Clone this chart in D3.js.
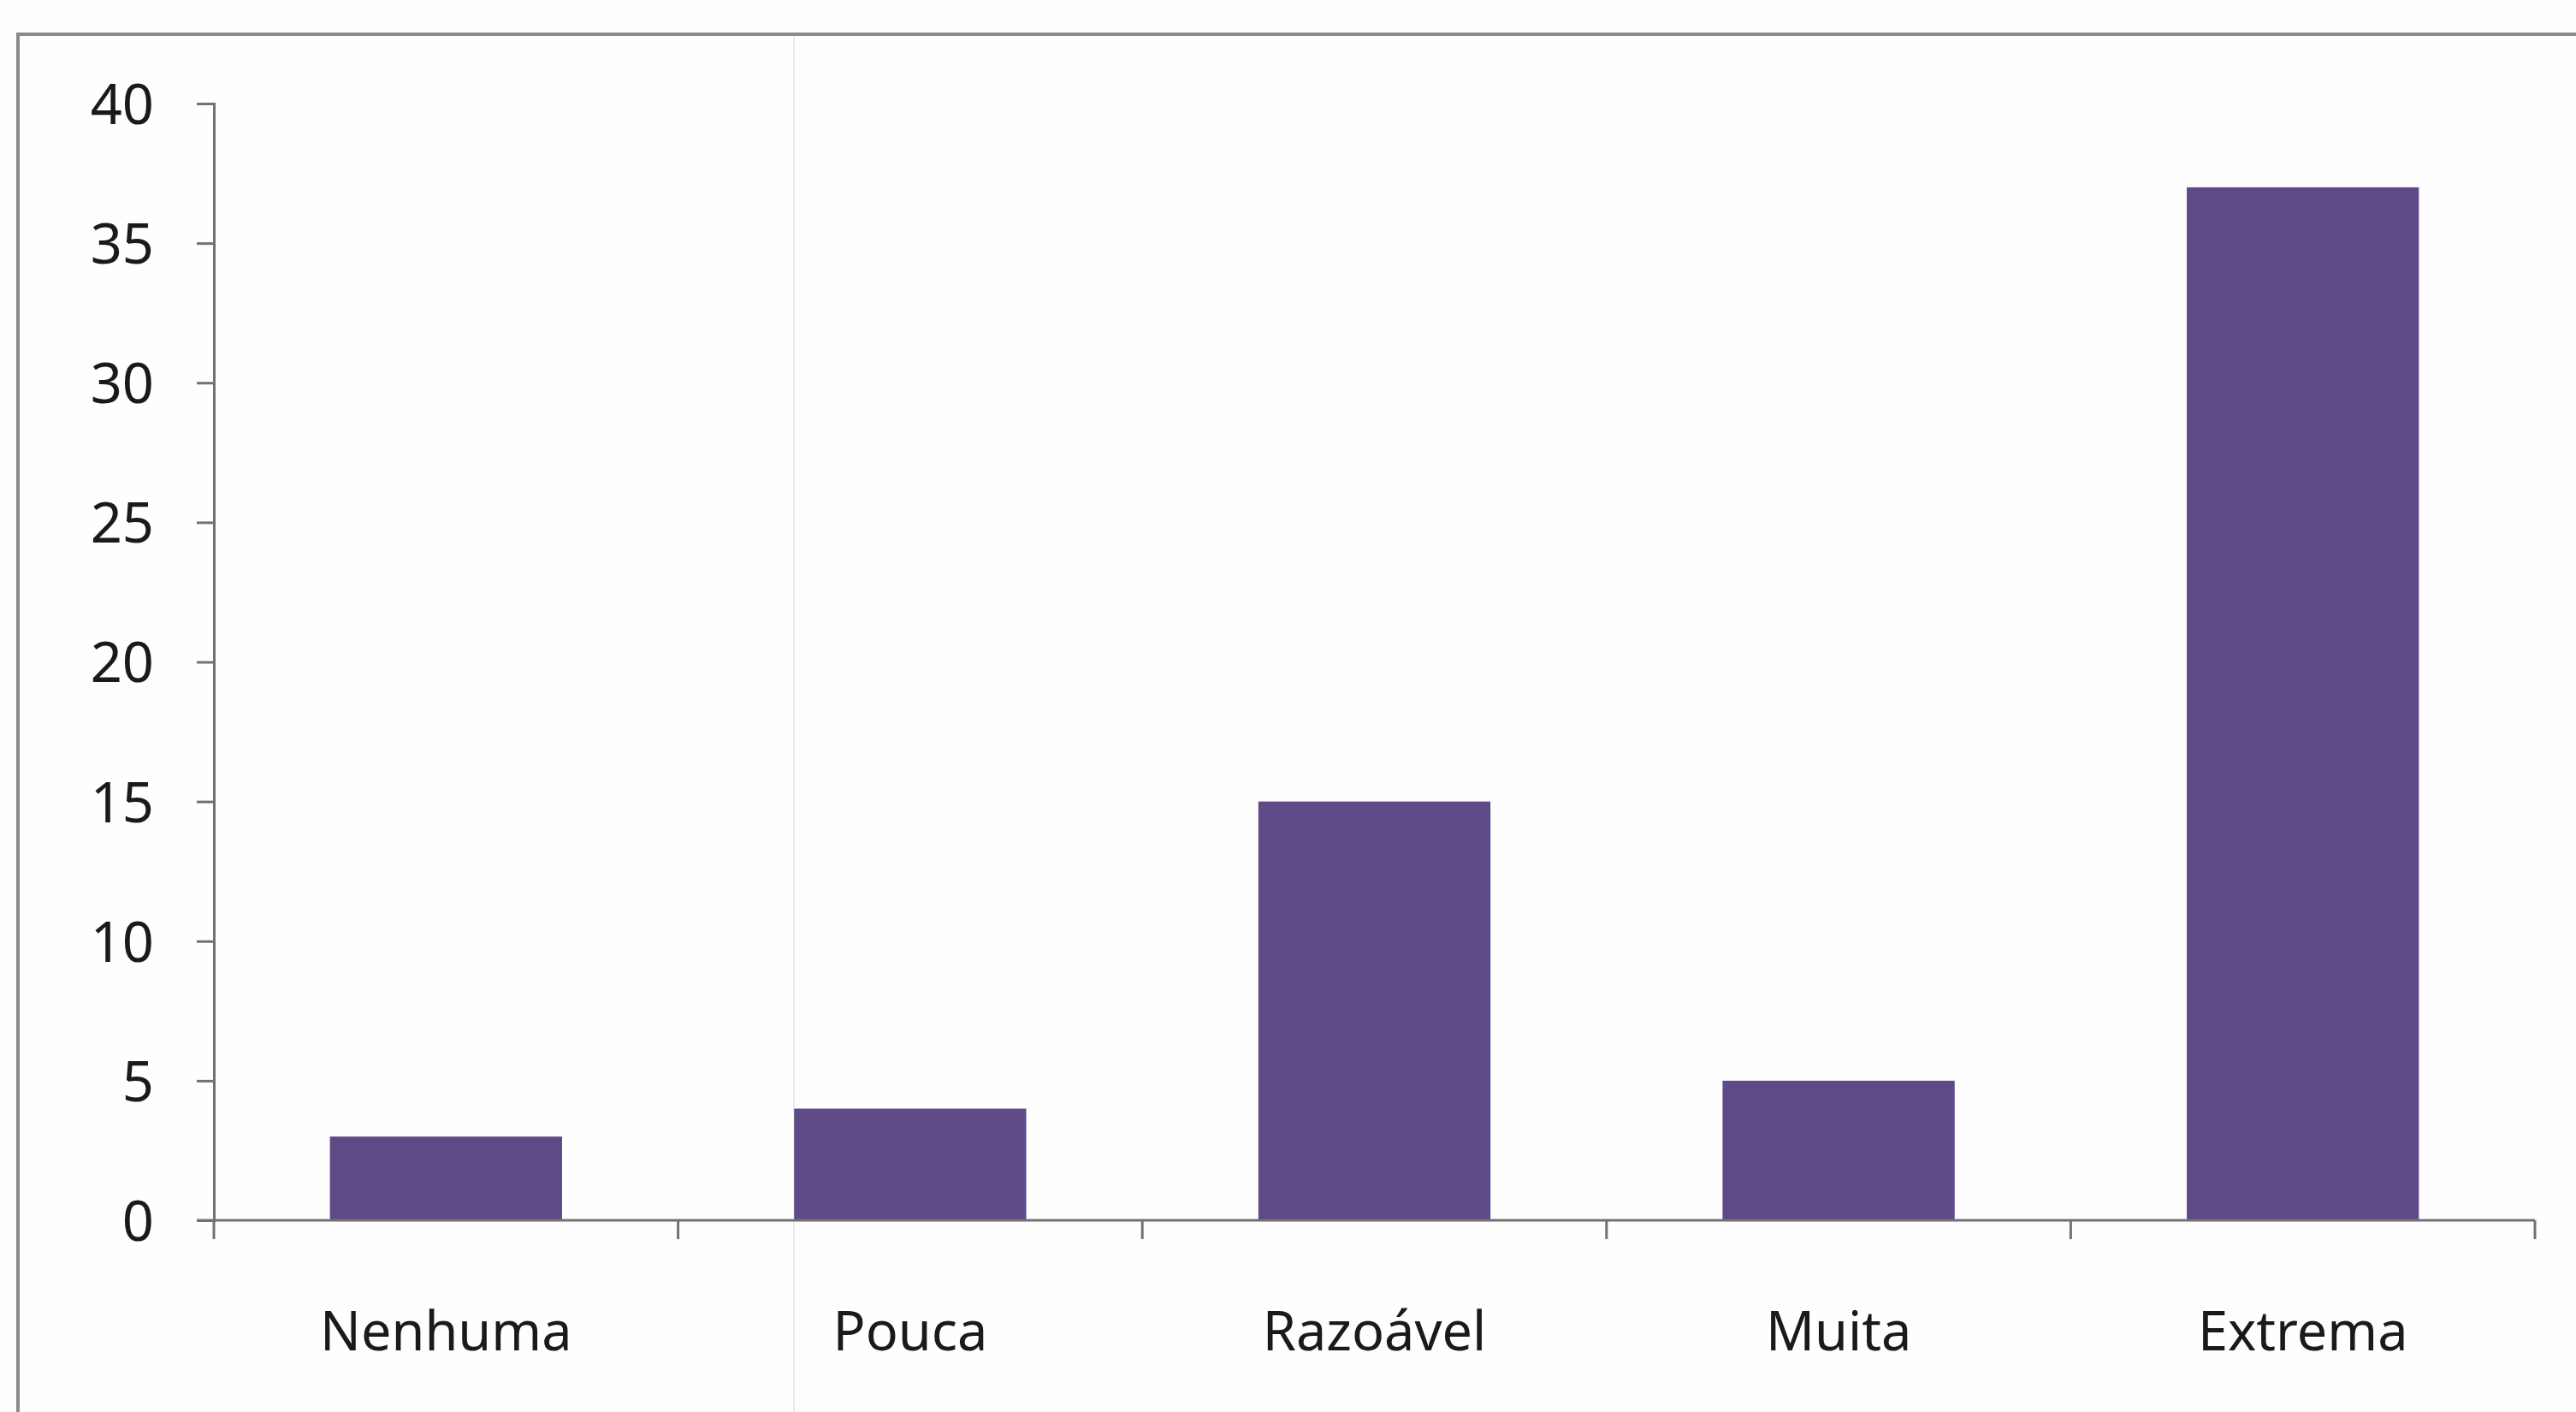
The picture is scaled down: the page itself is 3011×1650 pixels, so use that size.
<!DOCTYPE html>
<html>
<head>
<meta charset="utf-8">
<script src="https://cdn.jsdelivr.net/npm/d3@7"></script>
<style>
  html, body { margin: 0; padding: 0; background: #ffffff; }
  svg { display: block; }
</style>
</head>
<body>
<script>
// ---- data ----
const categories = ["Nenhuma", "Pouca", "Razoável", "Muita", "Extrema"];
const values = [3, 4, 15, 5, 37];
const yTicks = [0, 5, 10, 15, 20, 25, 30, 35, 40];

// ---- layout ----
const W = 3011, H = 1650;
const svg = d3.select("body").append("svg").attr("width", W).attr("height", H);

svg.append("rect").attr("width", W).attr("height", H).attr("fill", "#fefefe");

// chart frame (extends past right and bottom edges like the scan)
svg.append("rect")
  .attr("x", 21).attr("y", 40)
  .attr("width", W + 40).attr("height", H + 40)
  .attr("fill", "none").attr("stroke", "#8a8a8a").attr("stroke-width", 4);

// faint scan line
svg.append("line").attr("x1", 928).attr("x2", 928).attr("y1", 42).attr("y2", H)
  .attr("stroke", "#e3edf7").attr("stroke-width", 2);

const x = d3.scaleBand().domain(categories).range([250, 2963])
  .paddingInner(0.5).paddingOuter(0.25);
const y = d3.scaleLinear().domain([0, 40]).range([1426, 121]);

// bars
svg.append("g").selectAll("rect").data(categories).join("rect")
  .attr("x", d => x(d))
  .attr("y", (d, i) => y(values[i]))
  .attr("width", x.bandwidth())
  .attr("height", (d, i) => y(0) - y(values[i]))
  .attr("fill", "#5f4a88");

// y axis
const yAxis = svg.append("g").attr("transform", "translate(250,0)")
  .call(d3.axisLeft(y).tickValues(yTicks).tickSize(20).tickPadding(50));
yAxis.select(".domain").attr("stroke", "#727272").attr("stroke-width", 3);
yAxis.selectAll(".tick line").attr("stroke", "#727272").attr("stroke-width", 3);
yAxis.selectAll(".tick text")
  .attr("font-family", "'Noto Sans', 'Open Sans', sans-serif")
  .attr("font-size", 65).attr("fill", "#1a1a1a").attr("dy", "0.36em");

// x axis line + boundary ticks
const step = x.step();
const r0 = x.range()[0];
const boundaries = d3.range(categories.length + 1).map(i => r0 + i * step);
svg.append("line")
  .attr("x1", 230).attr("x2", x.range()[1])
  .attr("y1", y(0)).attr("y2", y(0))
  .attr("stroke", "#727272").attr("stroke-width", 3);
svg.append("g").selectAll("line").data(boundaries).join("line")
  .attr("x1", d => d).attr("x2", d => d)
  .attr("y1", y(0)).attr("y2", y(0) + 22)
  .attr("stroke", "#727272").attr("stroke-width", 3);

// x labels
svg.append("g").selectAll("text").data(categories).join("text")
  .attr("x", d => x(d) + x.bandwidth() / 2)
  .attr("y", 1578)
  .attr("text-anchor", "middle")
  .attr("font-family", "'Noto Sans', 'Open Sans', sans-serif")
  .attr("font-size", 63).attr("fill", "#1a1a1a")
  .text(d => d);
</script>
</body>
</html>
